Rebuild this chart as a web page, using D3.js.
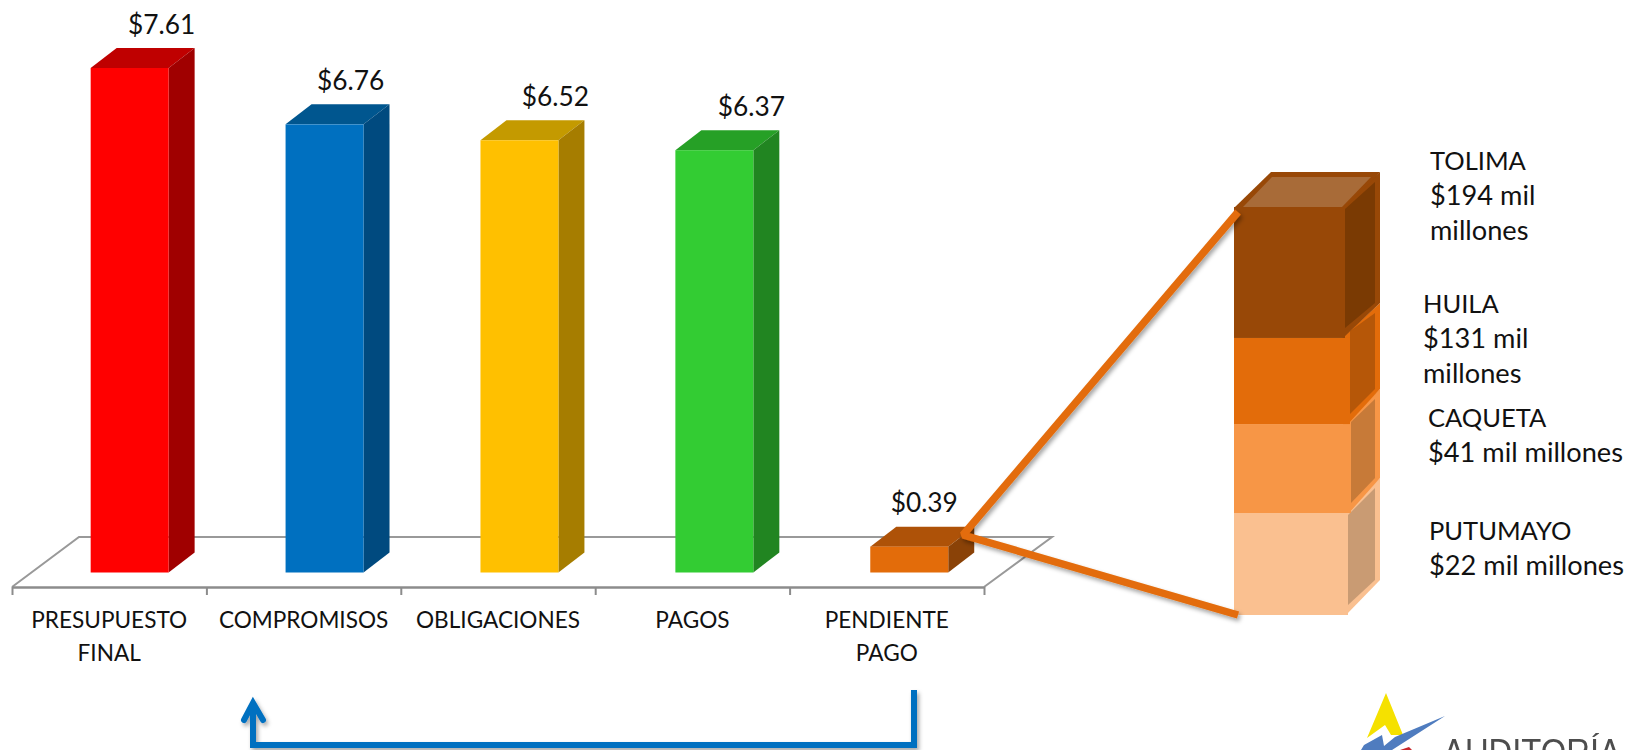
<!DOCTYPE html>
<html><head><meta charset="utf-8">
<script src="https://cdn.jsdelivr.net/npm/d3@7/dist/d3.min.js"></script>
<style>html,body{margin:0;padding:0;background:#fff;overflow:hidden}svg{display:block}text{font-family:Lato,"Open Sans",sans-serif;fill:#111}</style>
</head><body><svg id="c" width="1627" height="750"></svg>
<script>
const categories = ["PRESUPUESTO FINAL","COMPROMISOS","OBLIGACIONES","PAGOS","PENDIENTE PAGO"];
const values = [7.61,6.76,6.52,6.37,0.39];
const frontColors = ["#FF0000","#0070C0","#FFC000","#33CC33","#E36C0A"];
const topColors = ["#BF0000","#00568F","#C49A00","#26A026","#AE5208"];
const sideColors = ["#A00000","#004A7F","#A67D00","#218521","#8A4207"];
const labelNudges = [32,26,36,37,15];

const regions = ["TOLIMA","HUILA","CAQUETA","PUTUMAYO"];
const regionLabels = [["TOLIMA","$194 mil","millones"],["HUILA","$131 mil","millones"],["CAQUETA","$41 mil millones"],["PUTUMAYO","$22 mil millones"]];
const shownShares = [32.1,21.1,21.8,25.0];   // drawn share of the stack
const regionFront = ["#984807","#E36C0A","#F79646","#FAC090"];
const regionSide = ["#7A3A03","#B65708","#C77A38","#C99B73"];

const svg = d3.select("#c");
const defs = svg.append("defs");
const f = defs.append("filter").attr("id","sh").attr("x","-10%").attr("y","-10%").attr("width","120%").attr("height","120%");
f.append("feDropShadow").attr("dx",2).attr("dy",3).attr("stdDeviation",2).attr("flood-color","#000").attr("flood-opacity",.35);
defs.append("filter").attr("id","soft").append("feGaussianBlur").attr("stdDeviation",.7);

const x = d3.scaleBand().domain(categories).range([12,986.5]).paddingInner(.6).paddingOuter(.3);
const y = d3.scaleLinear().domain([0,7.61]).range([572.5,68]);
const shift = 20.2, dx = 26, dy = 20;
const line = d3.line();

// floor
const floorY0 = 587, floorY1 = 537;
svg.append("path").attr("d",line([[12,floorY0],[79,floorY1],[1052,floorY1],[984,floorY0]])).attr("fill","none").attr("stroke","#999").attr("stroke-width",2);

// axis
const tickScale = d3.scaleLinear().domain([0,categories.length]).range([12,984]);
const ax = svg.append("g").attr("transform",`translate(0,${floorY0})`).call(d3.axisBottom(tickScale).tickValues(d3.range(categories.length+1)).tickFormat("").tickSize(8).tickSizeOuter(0));
ax.selectAll("path,line").attr("stroke","#8c8c8c").attr("stroke-width",2);
ax.select("path").attr("stroke-width",2.5);

// bars
const bars = svg.append("g").selectAll("g").data(categories).join("g");
bars.each(function(c,i){
  const g = d3.select(this), l = x(c)+shift, w = x.bandwidth(), t = y(values[i]), b = y(0);
  g.append("path").attr("d",line([[l,t],[l+dx,t-dy],[l+w+dx,t-dy],[l+w,t]])+"Z").attr("fill",topColors[i]);
  g.append("path").attr("d",line([[l+w,t],[l+w+dx,t-dy],[l+w+dx,b-dy],[l+w,b]])+"Z").attr("fill",sideColors[i]);
  g.append("rect").attr("x",l).attr("y",t).attr("width",w).attr("height",b-t).attr("fill",frontColors[i]);
  g.append("text").attr("x",l+w/2+labelNudges[i]).attr("y",t-dy-14.5).attr("text-anchor","middle").attr("font-size",26.3).text("$"+values[i].toFixed(2));
});

// category labels
const catLabels = {"PRESUPUESTO FINAL":["PRESUPUESTO","FINAL"],"PENDIENTE PAGO":["PENDIENTE","PAGO"]};
categories.forEach((c,i)=>{
  const t = svg.append("text").attr("text-anchor","middle").attr("font-size",22.6);
  (catLabels[c]||[c]).forEach((s,k)=>t.append("tspan").attr("x",tickScale(i+.5)).attr("y",628+k*33).text(s));
});

// side stack
const sideY = d3.scaleLinear().domain([0,d3.sum(shownShares)]).range([207,615]);
const frontRight = [1345,1350,1351,1348];
let acc = 0;
const segs = regions.map((r,i)=>{const s={r,i,t:sideY(acc),b:sideY(acc+shownShares[i])};acc+=shownShares[i];return s;});
const L = 1234, R = 1380, diag = 35;
const stack = svg.append("g");
segs.slice().reverse().forEach(s=>{
  const xr = frontRight[s.i];
  stack.append("path").attr("d",line([[xr-8,s.t],[R,s.t-diag],[R,s.b-diag],[xr-2,s.b]])+"Z").attr("fill",regionFront[s.i]);
  stack.append("path").attr("d",line([[xr,s.t+(s.i==1?-7:s.i==2?-2:2)],[1375,s.t-25],[1375,s.b-35],[xr,s.b-10]])+"Z").attr("fill",regionSide[s.i]);
  stack.append("rect").attr("x",L).attr("y",s.t).attr("width",xr-L).attr("height",s.b-s.t).attr("fill",regionFront[s.i]);
});
stack.append("path").attr("d",line([[L,208],[1271,172],[R,172],[1345,208]])+"Z").attr("fill",regionFront[0]);
stack.append("path").attr("d",line([[1243,207],[1272,177],[1371,177],[1342,207]])+"Z").attr("fill","#A86B38");

// side labels
const labelPos = [[1430,170],[1423,313],[1428,427],[1429,540]];
regionLabels.forEach((ls,i)=>{
  const t = svg.append("text").attr("font-size",25.5);
  ls.forEach((s,k)=>t.append("tspan").attr("x",labelPos[i][0]).attr("y",labelPos[i][1]+k*35).attr("font-size",/[a-z]/.test(s)?27.2:25.5).text(s));
});

// connectors
svg.append("path").attr("d",line([[1238,615],[963,535],[1238,212]])).attr("fill","none").attr("stroke","#E36C0A").attr("stroke-width",7.5).attr("stroke-linejoin","bevel").attr("filter","url(#sh)");

// blue arrow
const arrow = svg.append("g").attr("fill","none").attr("stroke","#0070C0").attr("stroke-width",6).attr("filter","url(#sh)");
arrow.append("path").attr("d",line([[914,690],[914,745],[253,745],[253,703]]));
arrow.append("path").attr("stroke-linecap","round").attr("d",line([[244,720],[253,703],[263,720]]));

// logo
const logo = svg.append("g").attr("filter","url(#soft)");
logo.append("path").attr("d",line([[1386,693],[1367,738],[1385,725],[1391,735],[1403,735]])+"Z").attr("fill","#F5E100");
logo.append("path").attr("d",line([[1445,716],[1392,750],[1361,750],[1364,745],[1382,735],[1384,746],[1395,737]])+"Z").attr("fill","#4F7CBF");
logo.append("path").attr("d",line([[1400,750],[1409,747],[1412,750]])+"Z").attr("fill","#C8262B");
logo.append("text").attr("x",1443).attr("y",765).attr("font-size",37).attr("textLength",178).attr("lengthAdjust","spacingAndGlyphs").style("font-family","'Liberation Sans',sans-serif").style("fill","#4d4d4d").text("AUDITORÍA");
</script></body></html>
